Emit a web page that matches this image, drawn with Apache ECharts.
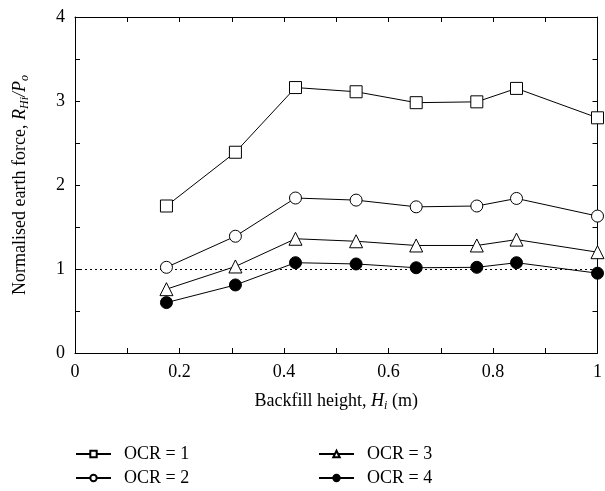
<!DOCTYPE html>
<html>
<head>
<meta charset="utf-8">
<script src="https://cdn.jsdelivr.net/npm/echarts@6/dist/echarts.min.js"></script>
<style>
  html, body { margin: 0; padding: 0; background: #fff; }
  #chart { width: 605px; height: 491px; }
</style>
</head>
<body>
<div id="chart"></div>
<script>
// Backfill heights (m) and normalised earth force for each over-consolidation ratio
const heights = [0.175, 0.307, 0.422, 0.538, 0.653, 0.769, 0.845, 1.0];
const ocr1 = [1.75, 2.39, 3.16, 3.11, 2.98, 2.99, 3.15, 2.80];
const ocr2 = [1.02, 1.39, 1.845, 1.82, 1.74, 1.75, 1.84, 1.63];
const ocr3 = [0.76, 1.03, 1.36, 1.33, 1.28, 1.28, 1.35, 1.20];
const ocr4 = [0.60, 0.81, 1.075, 1.06, 1.015, 1.02, 1.075, 0.95];
const seriesNames = ['OCR = 1', 'OCR = 2', 'OCR = 3', 'OCR = 4'];
const referenceLevel = 1;

const FONT = 'Liberation Serif';
const FS = 18;
const pair = (ys) => heights.map((x, i) => [x, ys[i]]);

const axisCommon = {
  axisLine: { onZero: false, lineStyle: { color: '#000', width: 1 } },
  axisTick: { inside: true, length: 5, lineStyle: { color: '#000' } },
  minorTick: { show: true, splitNumber: 2, length: 5, lineStyle: { color: '#000' } },
  splitLine: { show: false },
  minorSplitLine: { show: false }
};

const nameRich = {
  t: { fontFamily: FONT, fontSize: FS, color: '#000', lineHeight: 22 },
  i: { fontFamily: FONT, fontSize: FS, fontStyle: 'italic', color: '#000', lineHeight: 22 },
  s: { fontFamily: FONT, fontSize: 12, fontStyle: 'italic', color: '#000', lineHeight: 14, verticalAlign: 'bottom' }
};

function makeSeries(name, ys, symbol, size, fill) {
  return {
    name: name,
    type: 'line',
    xAxisIndex: 0,
    yAxisIndex: 0,
    data: pair(ys),
    symbol: symbol,
    symbolSize: size,
    showAllSymbol: true,
    color: '#000',
    lineStyle: { color: '#000', width: 1 },
    itemStyle: { color: fill, borderColor: '#000', borderWidth: 1 },
    emphasis: { disabled: true },
    z: 3
  };
}

const chart = echarts.init(document.getElementById('chart'), null, { renderer: 'canvas' });

const series = [
  makeSeries(seriesNames[0], ocr1, 'rect', 12, '#fff'),
  makeSeries(seriesNames[1], ocr2, 'circle', 12, '#fff'),
  makeSeries(seriesNames[2], ocr3, 'triangle', 13, '#fff'),
  makeSeries(seriesNames[3], ocr4, 'circle', 12, '#000')
];
// dotted reference line at unity
series[0].markLine = {
  silent: true,
  symbol: 'none',
  label: { show: false },
  lineStyle: { color: '#000', type: [2, 3], width: 1 },
  data: [{ yAxis: referenceLevel }],
  z: 1
};

const legendCommon = {
  orient: 'vertical',
  height: 120,
  itemWidth: 35,
  itemHeight: 8,
  itemGap: 6,
  padding: 0,
  selectedMode: false,
  textStyle: { fontFamily: FONT, fontSize: FS, color: '#000', padding: [0, 0, 0, 8] }
};

chart.setOption({
  animation: false,
  backgroundColor: '#fff',
  grid: { left: 75, right: 6, top: 17, bottom: 138 },
  xAxis: [
    Object.assign({}, axisCommon, {
      type: 'value', min: 0, max: 1, interval: 0.2, position: 'bottom',
      axisLabel: { fontFamily: FONT, fontSize: FS, color: '#000', margin: 10,
        formatter: (v) => (v === 0 || v === 1) ? String(v) : v.toFixed(1) },
      name: '{t|Backfill height, }{i|H}{s|i}{t| (m)}',
      nameLocation: 'middle',
      nameGap: 37,
      nameTextStyle: { rich: nameRich }
    }),
    Object.assign({}, axisCommon, {
      type: 'value', min: 0, max: 1, interval: 0.2, position: 'top',
      axisLabel: { show: false }
    })
  ],
  yAxis: [
    Object.assign({}, axisCommon, {
      type: 'value', min: 0, max: 4, interval: 1, position: 'left',
      axisLabel: { fontFamily: FONT, fontSize: FS, color: '#000', margin: 10 },
      name: '{t|Normalised earth force, }{i|R}{s|Hi}{i|/P}{s|o}',
      nameLocation: 'middle',
      nameGap: 44,
      nameTextStyle: { rich: nameRich }
    }),
    Object.assign({}, axisCommon, {
      type: 'value', min: 0, max: 4, interval: 1, position: 'right',
      axisLabel: { show: false }
    })
  ],
  legend: [
    Object.assign({}, legendCommon, { left: 75, top: 445, data: [seriesNames[0], seriesNames[1]] }),
    Object.assign({}, legendCommon, { left: 318, top: 445, data: [seriesNames[2], seriesNames[3]] })
  ],
  series: series
});
</script>
</body>
</html>
